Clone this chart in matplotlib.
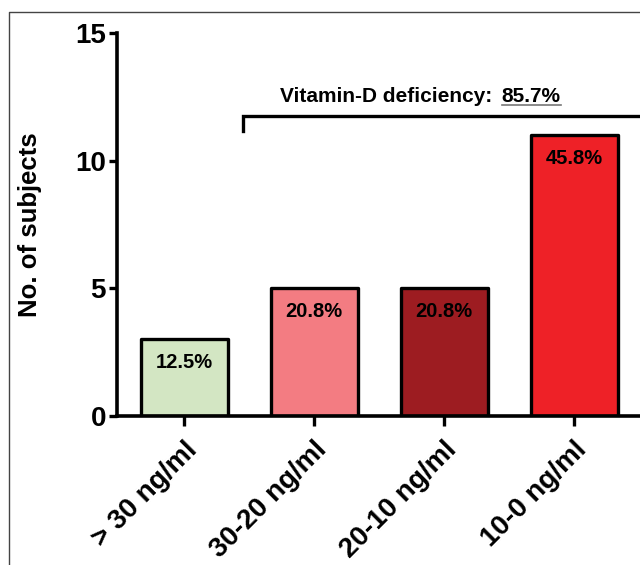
import matplotlib.pyplot as plt
from matplotlib.lines import Line2D
from matplotlib import rcParams

rcParams['font.family'] = ['Liberation Sans', 'DejaVu Sans']
rcParams['font.weight'] = 'bold'

# data
categories = ['> 30 ng/ml', '30-20 ng/ml', '20-10 ng/ml', '10-0 ng/ml']
subjects = [3, 5, 5, 11]
percent_labels = ['12.5%', '20.8%', '20.8%', '45.8%']
bar_colors = ['#d3e6c3', '#f37c82', '#9d1c21', '#ee2127']
deficiency_text = 'Vitamin-D deficiency:'
deficiency_value = '85.7%'

fig = plt.figure(figsize=(6.4, 5.65), dpi=100)
ax = fig.add_axes([0.183, 0.2637, 0.836, 0.678])

x = range(len(categories))
ax.bar(x, subjects, width=0.67, color=bar_colors, edgecolor='black',
       linewidth=2.4, joinstyle='round', zorder=2)

for i, (v, lab) in enumerate(zip(subjects, percent_labels)):
    ax.annotate(lab, xy=(i, v), xytext=(0, -10), textcoords='offset points',
                ha='center', va='top', fontsize=14.5, fontweight='bold')

ax.set_xlim(-0.515, 3.6)
ax.set_ylim(0, 15)
ax.set_yticks([0, 5, 10, 15])
ax.set_xticks(list(x))
ax.set_xticklabels(categories, rotation=45, ha='right', rotation_mode='anchor',
                   fontsize=20, fontweight='bold')
ax.tick_params(axis='y', labelsize=20, width=2.4, length=6, pad=2)
ax.tick_params(axis='x', width=2.4, length=7, pad=8)
for s in ['top', 'right']:
    ax.spines[s].set_visible(False)
for s in ['left', 'bottom']:
    ax.spines[s].set_linewidth(2.6)
ax.set_ylabel('No. of subjects', fontsize=18.5, fontweight='bold')
ax.yaxis.set_label_coords(-0.141, 0.5)

# bracket for deficiency group
ax.plot([0.45, 0.45, 3.6], [11.15, 11.76, 11.76], color='black', linewidth=2.4,
        clip_on=False, solid_joinstyle='miter')
t1 = ax.text(0.74, 12.3, deficiency_text, fontsize=15, fontweight='bold',
             ha='left', va='baseline')
fig.canvas.draw()
bb = t1.get_window_extent()
x_px = bb.x1 + 9
y_px = ax.transData.transform((0, 12.3))[1]
t2 = fig.text(x_px / fig.dpi / 6.4, y_px / fig.dpi / 5.65, deficiency_value,
              fontsize=15, fontweight='bold', ha='left', va='baseline')
fig.canvas.draw()
bb2 = t2.get_window_extent()
uy = (y_px - 3) / (5.65 * fig.dpi)
fig.add_artist(Line2D([bb2.x0 / (6.4 * fig.dpi), bb2.x1 / (6.4 * fig.dpi)], [uy, uy],
                      color='#777777', linewidth=1.2))

# outer frame of the picture
fx = 9 / 640
fy = 1 - 12 / 565
fig.add_artist(Line2D([fx, fx, 1.0], [0.0, fy, fy], color='#444444', linewidth=1.0))

fig.savefig('out.png', dpi=100)
